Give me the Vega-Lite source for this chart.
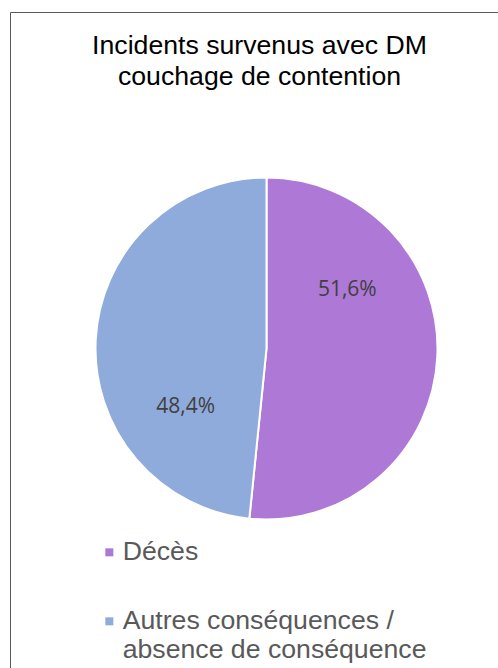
{
  "$schema": "https://vega.github.io/schema/vega-lite/v6.json",
  "width": 513,
  "height": 673,
  "autosize": {"type": "none"},
  "padding": {"left": 10, "top": 12, "right": 0, "bottom": 0},
  "background": "white",
  "view": {"stroke": "#595959", "strokeWidth": 1},
  "config": {
    "view": {"stroke": "#595959", "strokeWidth": 1},
    "locale": {"number": {"decimal": ",", "thousands": " ", "grouping": [3], "currency": ["", " €"]}}
  },
  "title": {
    "text": ["Incidents survenus avec DM", "couchage de contention"],
    "font": "Liberation Sans",
    "fontSize": 26.67,
    "fontWeight": "normal",
    "color": "#000000",
    "anchor": "middle",
    "lineHeight": 31,
    "offset": 0,
    "dx": -7,
    "dy": 79
  },
  "data": {
    "values": [
      {"categorie": "Décès", "part": 0.516},
      {"categorie": "Autres conséquences / absence de conséquence", "part": 0.484}
    ]
  },
  "encoding": {
    "theta": {"field": "part", "type": "quantitative", "stack": true},
    "order": {"field": "part", "type": "quantitative", "sort": "descending"}
  },
  "layer": [
    {
      "mark": {"type": "arc", "outerRadius": 171, "stroke": "white", "strokeWidth": 2},
      "encoding": {
        "color": {
          "field": "categorie",
          "type": "nominal",
          "scale": {
            "domain": ["Décès", "Autres conséquences / absence de conséquence"],
            "range": ["#AD78D6", "#8FABDC"]
          },
          "legend": {
            "orient": "none",
            "legendX": 86,
            "legendY": 527,
            "title": null,
            "padding": 0,
            "symbolType": "square",
            "symbolSize": 64,
            "symbolStrokeWidth": 0,
            "labelFont": "Liberation Sans",
            "labelFontSize": 26.67,
            "labelColor": "#595959",
            "labelOffset": 0,
            "labelLimit": 400,
            "labelLineHeight": 31,
            "rowPadding": 41,
            "labelExpr": "datum.label == 'Décès' ? datum.label : ['Autres conséquences /', 'absence de conséquence']"
          }
        }
      }
    },
    {
      "mark": {"type": "text", "radius": 100, "thetaOffset": -0.68, "font": "Open Sans", "fontSize": 21, "color": "#404040"},
      "encoding": {
        "text": {"field": "part", "type": "quantitative", "format": ".1%"}
      }
    }
  ]
}
